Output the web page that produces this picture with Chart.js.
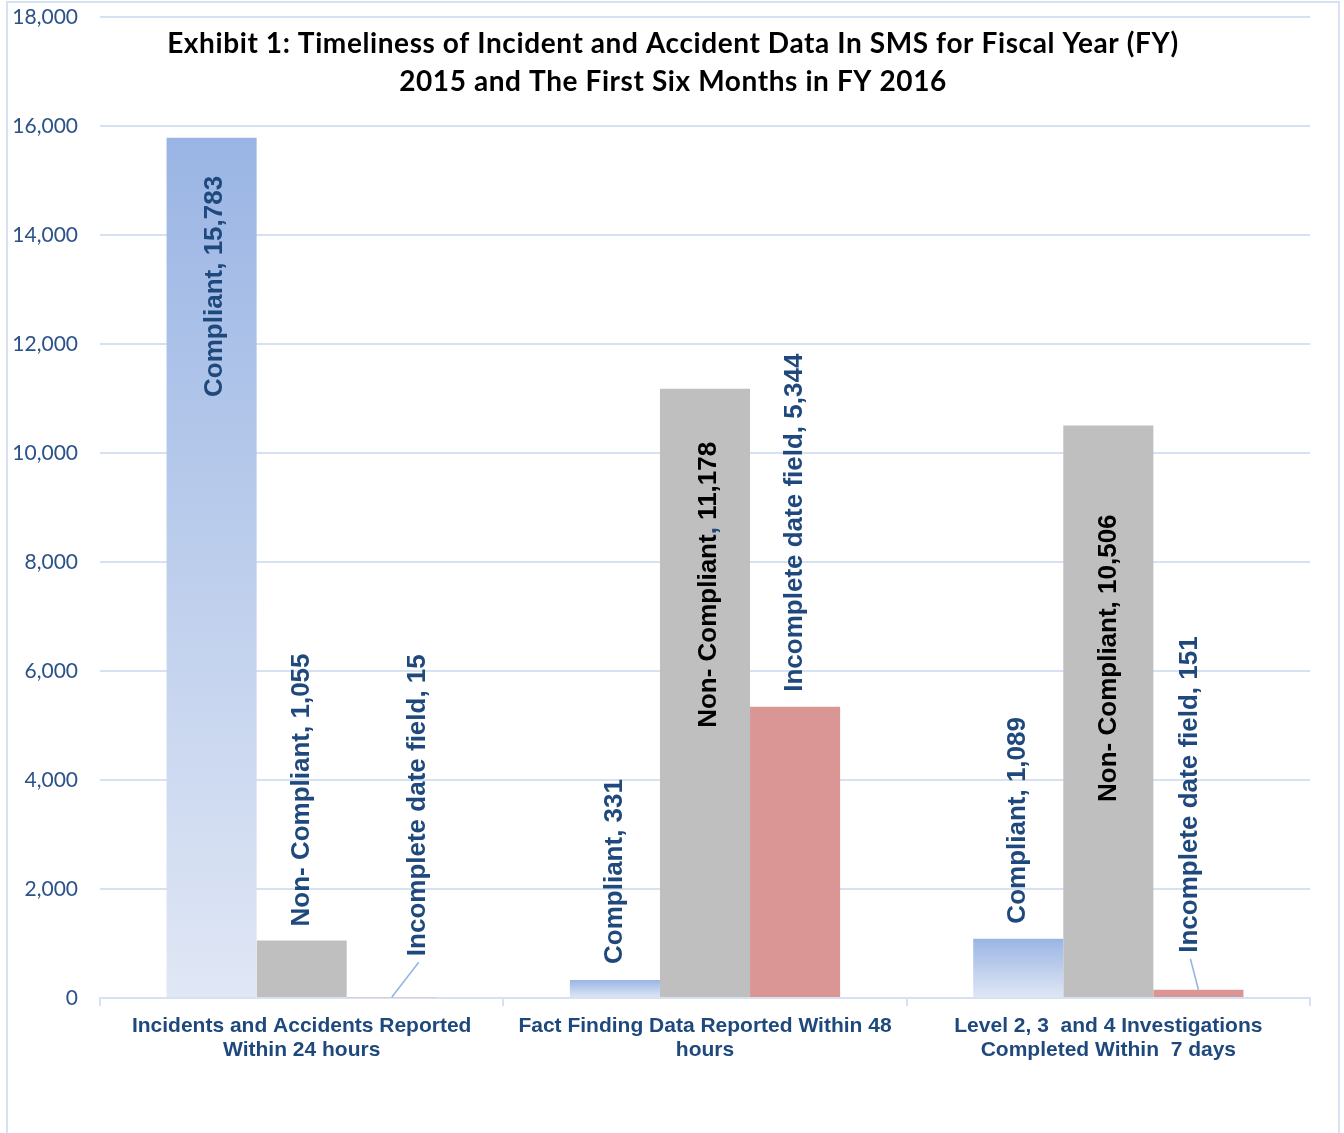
<!DOCTYPE html>
<html>
<head>
<meta charset="utf-8">
<script src="https://cdn.jsdelivr.net/npm/chart.js@4.4.1/dist/chart.umd.min.js"></script>
<style>
  html, body { margin: 0; padding: 0; background: #fff; }
  canvas { display: block; }
</style>
</head>
<body>
<canvas id="chart" width="1344" height="1133"></canvas>
<script>
const categories = [
  ["Incidents and Accidents Reported", "Within 24 hours"],
  ["Fact Finding Data Reported Within 48", "hours"],
  ["Level 2, 3  and 4 Investigations", "Completed Within  7 days"],
];
const seriesNames = ["Compliant", "Non- Compliant", "Incomplete date field"];
const compliant = [15783, 331, 1089];
const nonCompliant = [1055, 11178, 10506];
const incomplete = [15, 5344, 151];
const yMax = 18000;
const yStep = 2000;
const titleLines = [
  "Exhibit 1: Timeliness of Incident and Accident Data In SMS for Fiscal Year (FY)",
  "2015 and The First Six Months in FY 2016",
];

const GRID = "#D6E1F2";
const BLUE = "#1F497D";
const TICK_BLUE = "#2B5289";
const LABEL_FONT = "bold 26px 'Liberation Sans', Arial, sans-serif";

// value label placement per series / category: "in" hangs below the bar top,
// "out" stands on it; gap in px, dx shifts sideways, leader draws a line to the bar
const labelPlace = [
  [{ at: "in", gap: 38, dx: 3 }, { at: "out", gap: 16 }, { at: "out", gap: 15 }],
  [{ at: "out", gap: 14 }, { at: "in", gap: 53, dx: 4 }, { at: "in", gap: 89 }],
  [{ at: "out", gap: 41, dx: 26, leader: true }, { at: "out", gap: 15 }, { at: "out", gap: 37, dx: -9, leader: true }],
];
// text colour pieces; cat 2 non-compliant has a stray blue comma in the original
const labelColors = [
  [BLUE, BLUE, BLUE],
  [BLUE, ["#000", BLUE, "#000"], "#000"],
  [BLUE, BLUE, BLUE],
];

const fmt = (v) => v.toLocaleString("en-US");

function compliantFill(c) {
  const flat = "#A9BFE7";
  if (c.type !== "data" || !c.chart.scales.y) return flat;
  const y = c.chart.scales.y;
  const top = y.getPixelForValue(c.raw);
  const base = y.getPixelForValue(0);
  if (!isFinite(top) || !isFinite(base) || top === base) return flat;
  const g = c.chart.ctx.createLinearGradient(0, top, 0, base);
  g.addColorStop(0, "#9AB5E4");
  g.addColorStop(1, "#E0E7F5");
  return g;
}

const framePlugin = {
  id: "frame",
  beforeDraw(chart) {
    const ctx = chart.ctx;
    ctx.save();
    ctx.strokeStyle = GRID;
    ctx.lineWidth = 2;
    ctx.strokeRect(7, 2, 1332, 1200);
    ctx.restore();
  },
};

const titlePlugin = {
  id: "overTitle",
  afterDraw(chart) {
    const ctx = chart.ctx;
    ctx.save();
    ctx.fillStyle = "#000";
    ctx.font = "bold 28px Lato, 'Open Sans', sans-serif";
    ctx.letterSpacing = "0.6px";
    ctx.textAlign = "center";
    ctx.textBaseline = "alphabetic";
    titleLines.forEach((t, i) => ctx.fillText(t, 673, 53 + i * 38));
    ctx.restore();
  },
};

const valueLabels = {
  id: "valueLabels",
  afterDatasetsDraw(chart) {
    const ctx = chart.ctx;
    ctx.save();
    ctx.font = LABEL_FONT;
    ctx.textBaseline = "middle";
    chart.data.datasets.forEach((ds, di) => {
      const meta = chart.getDatasetMeta(di);
      meta.data.forEach((bar, i) => {
        const place = labelPlace[di][i];
        const col = labelColors[di][i];
        const name = seriesNames[di];
        const num = fmt(ds.data[i]);
        const parts = Array.isArray(col)
          ? [[name, col[0]], [",", col[1]], [" " + num, col[2]]]
          : [[name + ", " + num, col]];
        const total = parts.reduce((s, p) => s + ctx.measureText(p[0]).width, 0);
        const x = bar.x + (place.dx || 0);
        // start = bottom end of rotated text on screen
        const start = place.at === "in" ? bar.y + place.gap + total : bar.y - place.gap;
        if (place.leader) {
          ctx.strokeStyle = "#8EB4E3";
          ctx.lineWidth = 1.5;
          ctx.beginPath();
          ctx.moveTo(bar.x, bar.y);
          ctx.lineTo(x + 1, start + 6);
          ctx.stroke();
        }
        ctx.save();
        ctx.translate(x, start);
        ctx.rotate(-Math.PI / 2);
        ctx.textAlign = "left";
        let off = 0;
        for (const [txt, c] of parts) {
          ctx.fillStyle = c;
          ctx.fillText(txt, off, 0);
          off += ctx.measureText(txt).width;
        }
        ctx.restore();
      });
    });
    ctx.restore();
  },
};

function build() {
  const chart = new Chart(document.getElementById("chart"), {
    type: "bar",
    data: {
      labels: categories,
      datasets: [
        { label: seriesNames[0], data: compliant, backgroundColor: compliantFill },
        { label: seriesNames[1], data: nonCompliant, backgroundColor: "#BFBFBF" },
        { label: seriesNames[2], data: incomplete, backgroundColor: "#D99694" },
      ],
    },
    options: {
      responsive: false,
      animation: false,
      layout: { padding: { top: 17, right: 34, left: 0, bottom: 0 } },
      datasets: { bar: { categoryPercentage: 0.67, barPercentage: 1, borderWidth: 0 } },
      scales: {
        x: {
          grid: { offset: true, drawOnChartArea: false, drawTicks: true, tickLength: 8, color: GRID, lineWidth: 2 },
          border: { display: true, color: GRID, width: 2 },
          ticks: {
            color: BLUE, autoSkip: false, maxRotation: 0, padding: 8,
            font: { family: "'Liberation Sans', Arial, sans-serif", size: 21, weight: "bold", lineHeight: 1.15 },
          },
          afterFit: (s) => { s.height = 135; s.paddingLeft = 0; s.paddingRight = 0; },
        },
        y: {
          min: 0, max: yMax,
          grid: { color: GRID, lineWidth: 2, drawTicks: false },
          border: { display: false },
          ticks: {
            stepSize: yStep, padding: 22, color: TICK_BLUE,
            font: { family: "Lato, sans-serif", size: 21 },
            callback: (v) => fmt(v),
          },
          afterFit: (s) => { s.width = 100; s.paddingTop = 0; s.paddingBottom = 0; },
        },
      },
      plugins: { legend: { display: false }, tooltip: { enabled: false } },
    },
    plugins: [framePlugin, titlePlugin, valueLabels],
  });
  chart.update();
}

document.fonts.load("bold 28px Lato").then(build, build);
</script>
</body>
</html>
